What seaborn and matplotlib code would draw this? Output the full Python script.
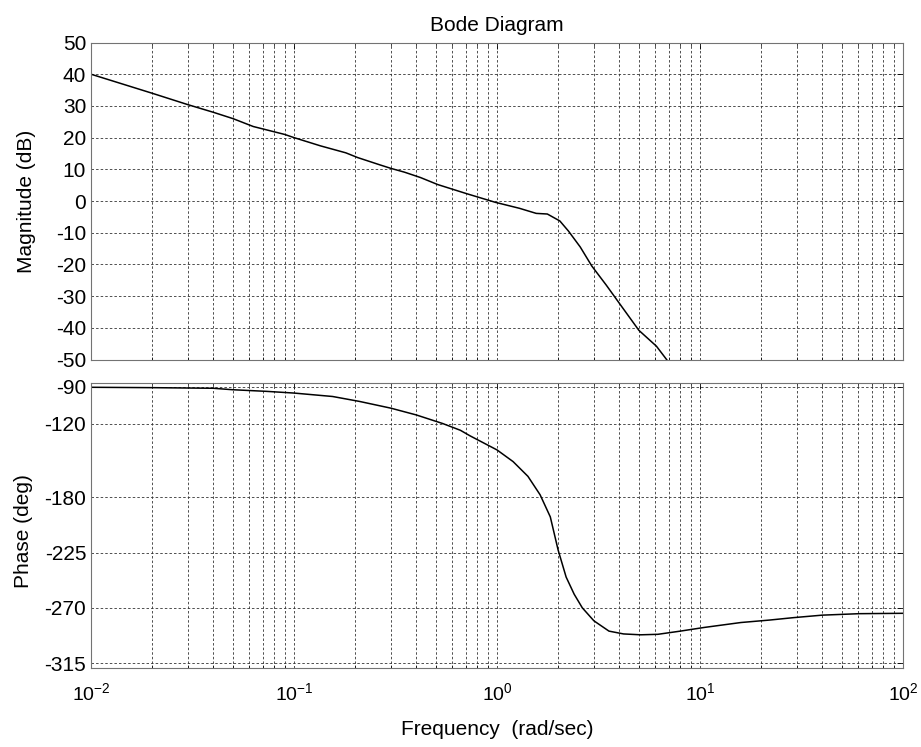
import numpy as np
import pandas as pd
import seaborn as sns
import matplotlib
matplotlib.use("Agg")
import matplotlib.pyplot as plt
from matplotlib.ticker import LogLocator, FixedLocator, NullFormatter

# values
mag_freq = [0.01, 0.02, 0.03, 0.04, 0.05, 0.063, 0.09, 0.1, 0.135, 0.18, 0.206,
            0.265, 0.3, 0.35, 0.42, 0.51, 0.71, 0.98, 1.29, 1.56, 1.77, 2.04,
            2.25, 2.57, 2.93, 3.45, 4.04, 5.0, 6.1, 6.9, 7.5]
mag_db = [40, 34, 30.4, 28, 26, 23.5, 21, 20, 17.4, 15.2, 13.7,
          11.4, 10.3, 9.1, 7.4, 5.2, 2.3, -0.4, -2.3, -3.9, -4.1, -6.3,
          -9.5, -14.5, -20.5, -26.5, -32.6, -40.8, -45.8, -50.3, -53]

ph_freq = [0.01, 0.02, 0.04, 0.05, 0.073, 0.1, 0.155, 0.21, 0.3, 0.4, 0.54,
           0.66, 0.736, 1.0, 1.2, 1.42, 1.63, 1.83, 2.0, 2.19, 2.4, 2.63,
           3.0, 3.56, 4.2, 5.1, 6.2, 8.0, 10.5, 15.9, 22, 29, 40, 61, 100]
phase_deg = [-90.5, -90.8, -91.3, -92.5, -93.8, -95.2, -98, -102, -107.5, -113, -120,
             -125.5, -130, -141.5, -151, -163, -178, -196, -223, -245, -259, -270,
             -280.6, -289, -291.3, -292, -291.6, -289, -286, -282, -280, -278, -276,
             -274.8, -274.5]

mag_ticks = [-50, -40, -30, -20, -10, 0, 10, 20, 30, 40, 50]
phase_ticks = [-315, -270, -225, -180, -120, -90]

mag_df = pd.DataFrame({"freq": mag_freq, "mag": mag_db})
ph_df = pd.DataFrame({"freq": ph_freq, "phase": phase_deg})

sns.set_style("white")
plt.rcParams['font.family'] = ['Liberation Sans', 'DejaVu Sans']
plt.rcParams['axes.unicode_minus'] = False
plt.rcParams['text.color'] = 'black'
plt.rcParams['axes.labelcolor'] = 'black'
plt.rcParams['xtick.color'] = 'black'
plt.rcParams['ytick.color'] = 'black'

fig = plt.figure(figsize=(9.21, 7.47), dpi=100)
ax_mag = fig.add_axes([0.0988, 0.5187, 0.8817, 0.4244])
ax_ph = fig.add_axes([0.0988, 0.1058, 0.8817, 0.3815])

sns.lineplot(data=mag_df, x="freq", y="mag", ax=ax_mag, color="black", lw=1.1)
sns.lineplot(data=ph_df, x="freq", y="phase", ax=ax_ph, color="black", lw=1.1)

grid_kw = dict(color="0.2", linestyle=(0, (3, 2.5)), linewidth=0.6)
for ax in (ax_mag, ax_ph):
    ax.set_xscale("log")
    ax.set_xlim(1e-2, 1e2)
    ax.xaxis.set_major_locator(LogLocator(base=10, numticks=10))
    ax.xaxis.set_minor_locator(LogLocator(base=10, subs=np.arange(2, 10), numticks=10))
    ax.xaxis.set_minor_formatter(NullFormatter())
    ax.grid(True, which="major", **grid_kw)
    ax.grid(True, which="minor", axis="x", **grid_kw)
    ax.tick_params(direction="in", length=4, width=0.6, labelsize=15,
                   top=True, right=True, colors="black", pad=3.5)
    ax.tick_params(which="minor", direction="in", length=2, width=0.5,
                   top=True, bottom=True)
    for s in ax.spines.values():
        s.set_color("0.45")
        s.set_linewidth(0.8)
    ax.set_axisbelow(True)

ax_mag.set_ylim(-50, 50)
ax_mag.yaxis.set_major_locator(FixedLocator(mag_ticks))
ax_mag.tick_params(labelbottom=False)
ax_mag.set_xlabel("")
ax_mag.set_ylabel("Magnitude (dB)", fontsize=15, color="black")
ax_mag.yaxis.set_label_coords(-0.0677, 0.5)
ax_mag.set_title("Bode Diagram", fontsize=15, pad=8, color="black")

ax_ph.set_ylim(-319, -87)
ax_ph.yaxis.set_major_locator(FixedLocator(phase_ticks))
ax_ph.set_ylabel("Phase (deg)", fontsize=15, color="black")
ax_ph.yaxis.set_label_coords(-0.0714, 0.48)
ax_ph.set_xlabel("Frequency  (rad/sec)", fontsize=15, labelpad=12, color="black")
ax_ph.tick_params(axis="x", labelsize=14, pad=10)

fig.savefig("out.png", dpi=100)
